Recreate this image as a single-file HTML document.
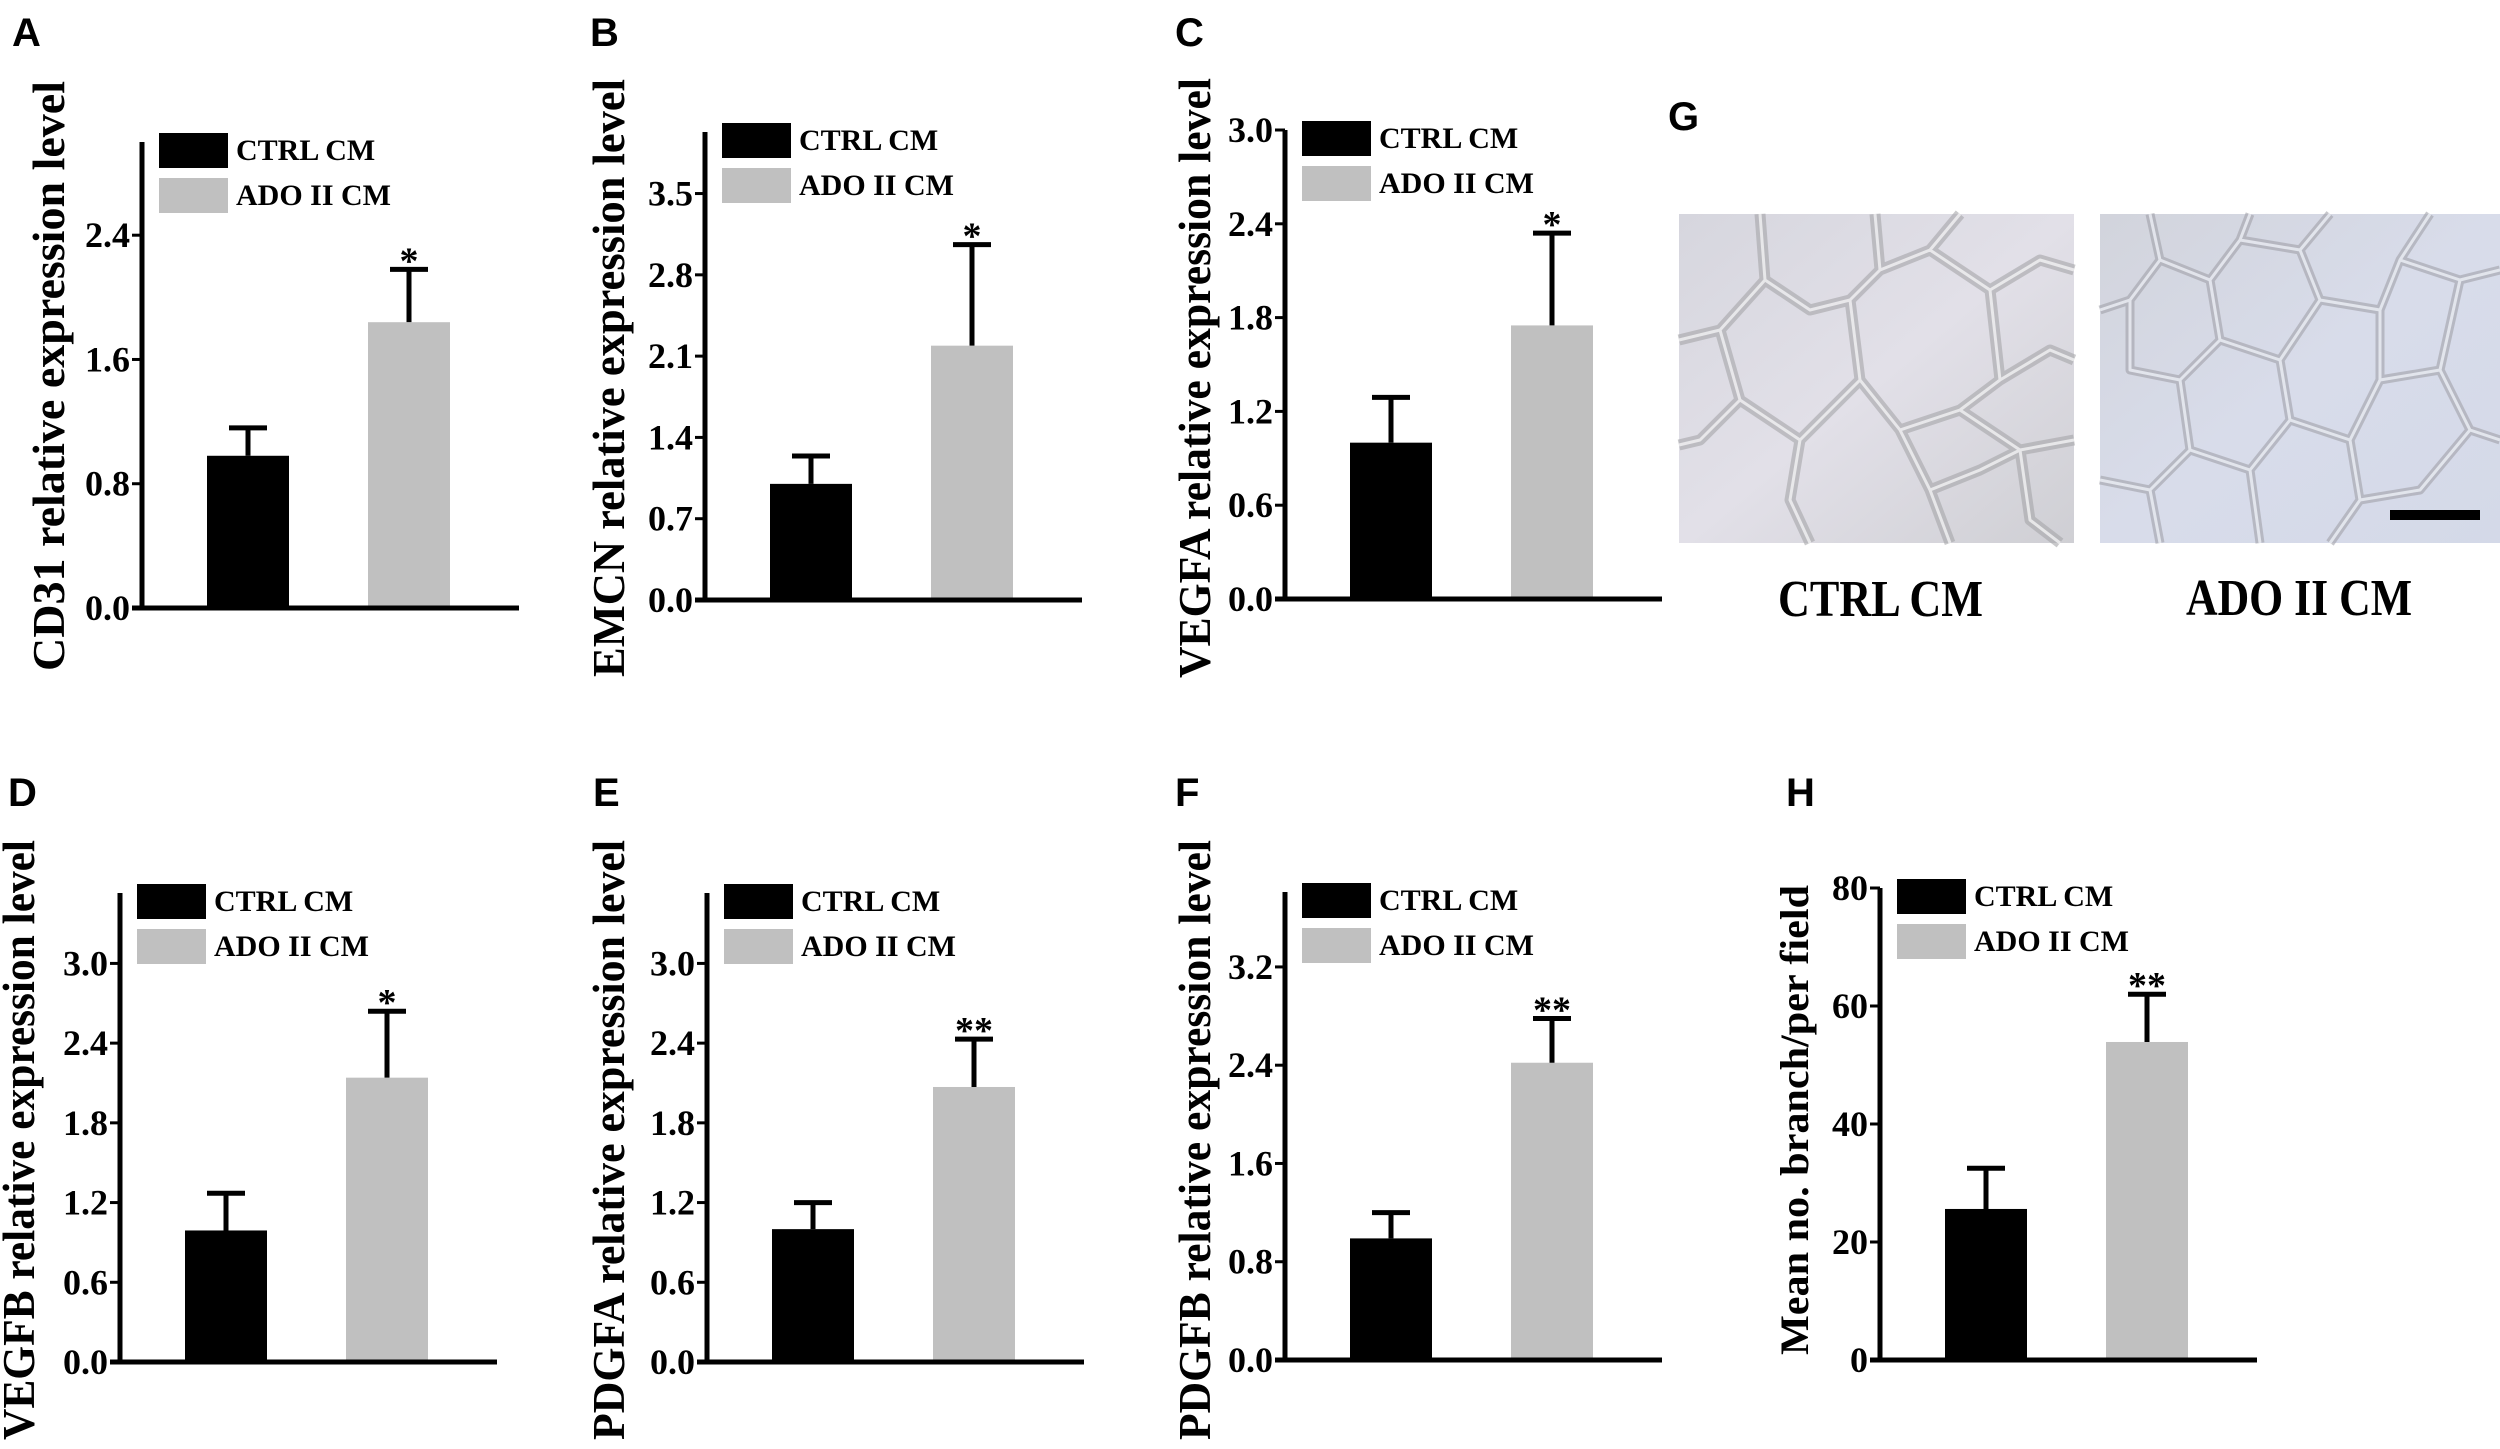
<!DOCTYPE html>
<html><head><meta charset="utf-8"><style>
html,body{margin:0;padding:0;background:#fff;}
svg{display:block;}
text{font-family:"Liberation Serif",serif;font-weight:bold;fill:#000;}
.lt{font-family:"Liberation Sans",sans-serif;font-weight:bold;}
</style></head><body>
<svg id="fig" width="2500" height="1449" viewBox="0 0 2500 1449" xmlns="http://www.w3.org/2000/svg">
<defs>
<linearGradient id="g1" x1="0" y1="0" x2="1" y2="1"><stop offset="0" stop-color="#d6d6de"/><stop offset="0.5" stop-color="#e2e0e8"/><stop offset="1" stop-color="#cfcfd4"/></linearGradient>
<linearGradient id="g2" x1="0" y1="0" x2="1" y2="1"><stop offset="0" stop-color="#d2d4dc"/><stop offset="0.5" stop-color="#d8dcea"/><stop offset="1" stop-color="#d4d9e8"/></linearGradient>
</defs>
<g id="panelG">
<text class="lt" x="1668" y="130" font-size="40">G</text>
<rect x="1679" y="214" width="395" height="329" fill="url(#g1)"/>
<g fill="none" stroke-linejoin="round">
<path id="n1" stroke="#a5a5a8" stroke-width="11" stroke-opacity="0.6" d="M1760 214 L1765 280 L1720 330 L1679 340 M1765 280 L1810 310 L1850 300 L1880 270 L1875 214 M1880 270 L1930 250 L1960 214 M1930 250 L1990 290 L2040 260 L2074 270 M1850 300 L1860 380 L1900 430 L1960 410 L2000 380 L1990 290 M1720 330 L1740 400 L1700 440 L1679 445 M1740 400 L1800 440 L1860 380 M1800 440 L1790 500 L1810 543 M1900 430 L1930 490 L1950 543 M1960 410 L2020 450 L2074 440 M2020 450 L2030 520 L2060 543 M2000 380 L2050 350 L2074 360 M1930 490 L1980 470 L2020 450"/>
<path stroke="#f2f2f4" stroke-width="3" stroke-opacity="0.8" d="M1760 214 L1765 280 L1720 330 L1679 340 M1765 280 L1810 310 L1850 300 L1880 270 L1875 214 M1880 270 L1930 250 L1960 214 M1930 250 L1990 290 L2040 260 L2074 270 M1850 300 L1860 380 L1900 430 L1960 410 L2000 380 L1990 290 M1720 330 L1740 400 L1700 440 L1679 445 M1740 400 L1800 440 L1860 380 M1800 440 L1790 500 L1810 543 M1900 430 L1930 490 L1950 543 M1960 410 L2020 450 L2074 440 M2020 450 L2030 520 L2060 543 M2000 380 L2050 350 L2074 360 M1930 490 L1980 470 L2020 450"/>
</g>
<rect x="2100" y="214" width="400" height="329" fill="url(#g2)"/>
<g fill="none" stroke-linejoin="round">
<path stroke="#a0a0a8" stroke-width="9" stroke-opacity="0.6" d="M2150 214 L2160 260 L2130 300 L2100 310 M2160 260 L2210 280 L2240 240 L2250 214 M2240 240 L2300 250 L2330 214 M2300 250 L2320 300 L2380 310 L2400 260 L2430 214 M2400 260 L2460 280 L2500 270 M2210 280 L2220 340 L2180 380 L2130 370 L2130 300 M2220 340 L2280 360 L2320 300 M2280 360 L2290 420 L2350 440 L2380 380 L2380 310 M2380 380 L2440 370 L2460 280 M2440 370 L2470 430 L2500 440 M2180 380 L2190 450 L2150 490 L2100 480 M2190 450 L2250 470 L2290 420 M2250 470 L2260 543 M2350 440 L2360 500 L2330 543 M2360 500 L2420 490 L2470 430 M2150 490 L2160 543"/>
<path stroke="#eef0f6" stroke-width="3" stroke-opacity="0.8" d="M2150 214 L2160 260 L2130 300 L2100 310 M2160 260 L2210 280 L2240 240 L2250 214 M2240 240 L2300 250 L2330 214 M2300 250 L2320 300 L2380 310 L2400 260 L2430 214 M2400 260 L2460 280 L2500 270 M2210 280 L2220 340 L2180 380 L2130 370 L2130 300 M2220 340 L2280 360 L2320 300 M2280 360 L2290 420 L2350 440 L2380 380 L2380 310 M2380 380 L2440 370 L2460 280 M2440 370 L2470 430 L2500 440 M2180 380 L2190 450 L2150 490 L2100 480 M2190 450 L2250 470 L2290 420 M2250 470 L2260 543 M2350 440 L2360 500 L2330 543 M2360 500 L2420 490 L2470 430 M2150 490 L2160 543"/>
</g>
<rect x="2390" y="510" width="90" height="10" fill="#000"/>
<text x="1778" y="616" font-size="52" textLength="205" lengthAdjust="spacingAndGlyphs">CTRL CM</text>
<text x="2186" y="615" font-size="52" textLength="226" lengthAdjust="spacingAndGlyphs">ADO II CM</text>
</g>
</svg>
<script>
// ---- data ----
const groups = ["CTRL CM", "ADO II CM"];
const cd31Mean = [0.98, 1.84];   const cd31Sd = [0.18, 0.34];
const emcnMean = [1.0, 2.19];    const emcnSd = [0.24, 0.87];
const vegfaMean = [1.0, 1.75];   const vegfaSd = [0.29, 0.59];
const vegfbMean = [0.99, 2.14];  const vegfbSd = [0.28, 0.50];
const pdgfaMean = [1.0, 2.07];   const pdgfaSd = [0.20, 0.36];
const pdgfbMean = [0.99, 2.42];  const pdgfbSd = [0.21, 0.36];
const branchMean = [25.6, 53.9]; const branchSd = [6.9, 8.1];
const cd31Ticks = [0, 0.8, 1.6, 2.4];
const emcnTicks = [0, 0.7, 1.4, 2.1, 2.8, 3.5];
const vegfaTicks = [0, 0.6, 1.2, 1.8, 2.4, 3.0];
const vegfbTicks = [0, 0.6, 1.2, 1.8, 2.4, 3.0];
const pdgfaTicks = [0, 0.6, 1.2, 1.8, 2.4, 3.0];
const pdgfbTicks = [0, 0.8, 1.6, 2.4, 3.2];
const branchTicks = [0, 20, 40, 60, 80];
const sigMarks = ["*", "*", "*", "*", "**", "**", "**"];

const NS = "http://www.w3.org/2000/svg";
const svg = document.getElementById("fig");
function mk(tag, attrs, parent) {
  const e = document.createElementNS(NS, tag);
  for (const k in attrs) e.setAttribute(k, attrs[k]);
  parent.appendChild(e);
  return e;
}
const panels = [
  {id:"a", title:"CD31 relative expression level", mean:cd31Mean, sd:cd31Sd, ticks:cd31Ticks, max:3.0, ax:142, top:142, base:608, lx:12, ly:46, tx:64, ty:376, fs:46, tl:590, sig:sigMarks[0]},
  {id:"b", title:"EMCN relative expression level", mean:emcnMean, sd:emcnSd, ticks:emcnTicks, max:4.03, ax:705, top:132, base:600, lx:590, ly:46, tx:624, ty:378, fs:46, tl:598, sig:sigMarks[1]},
  {id:"c", title:"VEGFA relative expression level", mean:vegfaMean, sd:vegfaSd, ticks:vegfaTicks, max:3.0, ax:1285, top:130, base:599, lx:1175, ly:46, tx:1210, ty:378, fs:46, tl:600, sig:sigMarks[2]},
  {id:"d", title:"VEGFB relative expression level", mean:vegfbMean, sd:vegfbSd, ticks:vegfbTicks, max:3.53, ax:120, top:893, base:1362, lx:8, ly:806, tx:34, ty:1140, fs:46, tl:600, sig:sigMarks[3]},
  {id:"e", title:"PDGFA relative expression level", mean:pdgfaMean, sd:pdgfaSd, ticks:pdgfaTicks, max:3.53, ax:707, top:893, base:1362, lx:593, ly:806, tx:624, ty:1140, fs:46, tl:600, sig:sigMarks[4]},
  {id:"f", title:"PDGFB relative expression level", mean:pdgfbMean, sd:pdgfbSd, ticks:pdgfbTicks, max:3.81, ax:1285, top:892, base:1360, lx:1175, ly:806, tx:1210, ty:1140, fs:46, tl:600, sig:sigMarks[5]},
  {id:"h", title:"Mean no. branch/per field", mean:branchMean, sd:branchSd, ticks:branchTicks, max:80, ax:1880, top:888, base:1360, lx:1786, ly:806, tx:1808, ty:1120, fs:40, tl:470, sig:sigMarks[6]}
];
const colors = ["#000000", "#c0c0c0"];
panels.forEach(p => {
  const g = mk("g", {}, svg);
  
  
  const y = v => p.base - (v / p.max) * (p.base - p.top);
  const lab = mk("text", {x:p.lx, y:p.ly, "font-size":40, class:"lt"}, g);
  lab.textContent = p.id.toUpperCase();
  
  
  const t = mk("text", {x:0, y:0, "font-size":p.fs, "text-anchor":"middle", textLength:p.tl, lengthAdjust:"spacingAndGlyphs", transform:`translate(${p.tx},${p.ty}) rotate(-90)`}, g);
  t.textContent = p.title;
  
  
  const offs = [65, 226];
  p.mean.forEach((m, i) => {
    const x0 = p.ax + offs[i];
    const b = mk("rect", {x:x0, y:y(m), width:82, height:p.base - y(m), fill:colors[i]}, g);
    
    
    const cx = x0 + 41, ty = y(m + p.sd[i]);
    const eb = mk("path", {d:`M${cx} ${y(m)} V${ty} M${cx-19} ${ty} H${cx+19}`, stroke:"#000", "stroke-width":5, fill:"none"}, g);
    
    
    if (i === 1) {
      const s = mk("text", {x:cx, y:ty + 4, "font-size":38, "text-anchor":"middle"}, g);
      s.textContent = p.sig;
      
      
    }
  });
  const yl = mk("line", {x1:p.ax, y1:p.top, x2:p.ax, y2:p.base + 2, stroke:"#000", "stroke-width":5}, g);
  
  
  const xl = mk("line", {x1:p.ax - 10, y1:p.base, x2:p.ax + 377, y2:p.base, stroke:"#000", "stroke-width":5}, g);
  
  
  p.ticks.forEach(v => {
    const tk = mk("line", {x1:p.ax - 10, y1:y(v), x2:p.ax, y2:y(v), stroke:"#000", "stroke-width":3}, g);
    
    
    const tl = mk("text", {x:p.ax - 12, y:y(v) + 12, "font-size":36, "text-anchor":"end"}, g);
    tl.textContent = p.max > 10 ? String(v) : v.toFixed(1);
    
    
  });
  const lt = p.top - 9;
  groups.forEach((gname, i) => {
    const r = mk("rect", {x:p.ax + 17, y:lt + i * 45, width:69, height:35, fill:colors[i]}, g);
    
    
    const lx = mk("text", {x:p.ax + 94, y:lt + 27 + i * 45, "font-size":30}, g);
    lx.textContent = gname;
    
    
  });
});
</script>
</body></html>
